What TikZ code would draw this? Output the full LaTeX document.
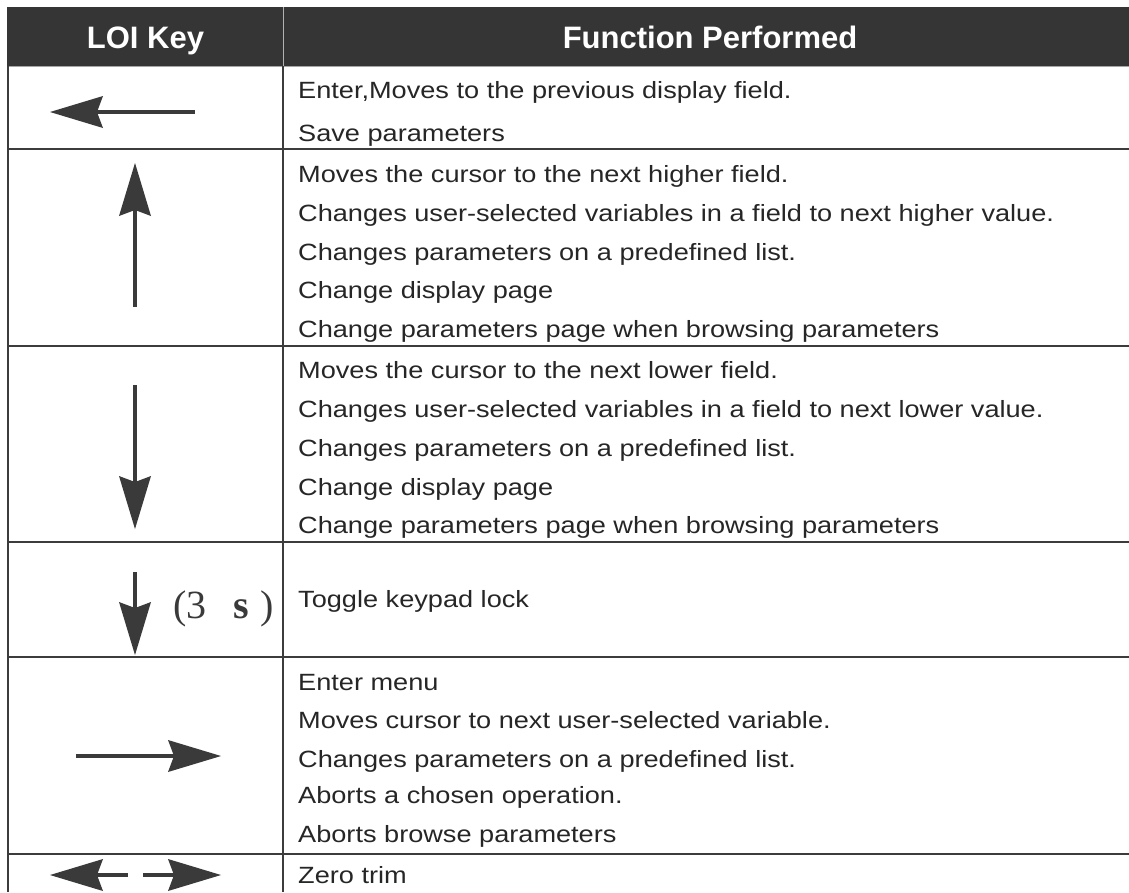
\documentclass[tikz,border=0pt]{standalone}
\usepackage{fontspec}
\setmainfont{Liberation Sans}
\newfontfamily\bodyfont[FakeStretch=1.155]{Liberation Sans}
\newfontfamily\keyserif{Liberation Serif}
\definecolor{ink}{HTML}{262626}
\definecolor{rule}{HTML}{3C3C3C}
\definecolor{headfill}{HTML}{353535}
\definecolor{keyink}{HTML}{3A3A3A}
\tikzset{
  x=1pt, y=-1pt,
  gridline/.style={draw=rule, line width=1.8pt},
  headtext/.style={text=white, font=\fontsize{31}{36}\selectfont\bfseries, anchor=base, inner sep=0pt},
  celltext/.style={text=ink, font=\bodyfont\fontsize{23.5}{28}\selectfont, anchor=base west, inner sep=0pt},
  shaft/.style={draw=keyink, line width=4.5pt},
  keyhead/.pic={\fill[keyink] (0,0) -- (-53,-16) -- (-47,0) -- (-53,16) -- cycle;},
  paren/.style={text=keyink, font=\keyserif\fontsize{40}{44}\selectfont, anchor=base, inner sep=0pt}
}
\begin{document}
\begin{tikzpicture}
\useasboundingbox (0,0) rectangle (1129,892);
\fill[white] (0,0) rectangle (1129,892);

% header band
\fill[headfill] (7,7) rectangle (1129,66);
\draw[gray!70, line width=0.8pt] (7,66) -- (1129,66);
\draw[gray!60, line width=0.8pt] (283,7) -- (283,66);
\node[headtext] (hkey) at (145.5,48) {LOI Key};
\node[headtext] (hfun) at (710,48) {Function Performed};

% table rules
\draw[gridline] (8,66) -- (8,892);
\draw[gridline] (283,66) -- (283,892);
\foreach \yy in {149,346,542,657,854}
  \draw[gridline] (8,\yy) -- (1129,\yy);

% row 1: left key
\draw[shaft] (97,112) -- (195,112);
\pic[rotate=180] at (50,112) {keyhead};
\node[celltext] (r1a) at (298,98) {Enter,Moves to the previous display field.};
\node[celltext] (r1b) at (298,141) {Save parameters};

% row 2: up key
\draw[shaft] (135,209) -- (135,307);
\pic[rotate=90] at (135,163) {keyhead};
\node[celltext] (r2a) at (298,182) {Moves the cursor to the next higher field.};
\node[celltext] (r2b) at (298,221) {Changes user-selected variables in a field to next higher value.};
\node[celltext] (r2c) at (298,260) {Changes parameters on a predefined list.};
\node[celltext] (r2d) at (298,298) {Change display page};
\node[celltext] (r2e) at (298,337) {Change parameters page when browsing parameters};

% row 3: down key
\draw[shaft] (135,385) -- (135,484);
\pic[rotate=-90] at (135,529) {keyhead};
\node[celltext] (r3a) at (298,378) {Moves the cursor to the next lower field.};
\node[celltext] (r3b) at (298,417) {Changes user-selected variables in a field to next lower value.};
\node[celltext] (r3c) at (298,456) {Changes parameters on a predefined list.};
\node[celltext] (r3d) at (298,495) {Change display page};
\node[celltext] (r3e) at (298,533) {Change parameters page when browsing parameters};

% row 4: down key held 3 s
\draw[shaft] (135,572) -- (135,609);
\pic[rotate=-90] at (135,655) {keyhead};
\node[paren] (p1) at (180,618) {(};
\node[paren] (p2) at (196,618) {3};
\node[paren, font=\keyserif\bfseries\fontsize{40}{44}\selectfont] (p3) at (241,618) {s};
\node[paren] (p4) at (267,618) {)};
\node[celltext] (r4a) at (298,607) {Toggle keypad lock};

% row 5: right key
\draw[shaft] (76,756) -- (174,756);
\pic at (221,756) {keyhead};
\node[celltext] (r5a) at (298,690) {Enter menu};
\node[celltext] (r5b) at (298,728) {Moves cursor to next user-selected variable.};
\node[celltext] (r5c) at (298,767) {Changes parameters on a predefined list.};
\node[celltext] (r5d) at (298,803) {Aborts a chosen operation.};
\node[celltext] (r5e) at (298,842) {Aborts browse parameters};

% row 6: left and right keys together
\draw[shaft] (97,875) -- (128,875);
\pic[rotate=180] at (50,875) {keyhead};
\draw[shaft] (143,875) -- (174,875);
\pic at (221,875) {keyhead};
\node[celltext] (r6a) at (298,883) {Zero trim};
\end{tikzpicture}
\end{document}
